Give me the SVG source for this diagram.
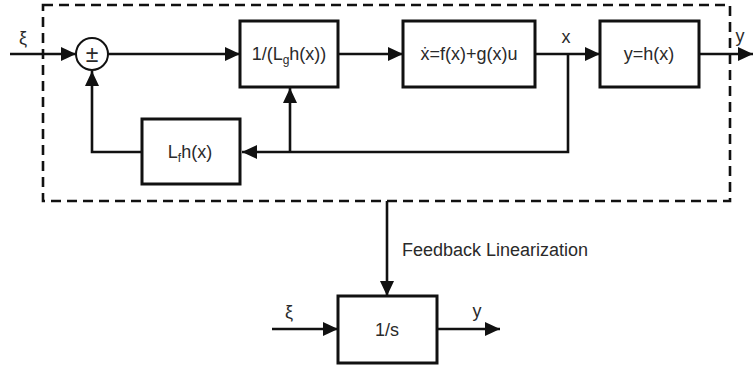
<svg xmlns="http://www.w3.org/2000/svg" width="755" height="367" viewBox="0 0 755 367">
<style>
.box{fill:#fff;stroke:#111;stroke-width:3}
.ln{fill:none;stroke:#111;stroke-width:2.6}
.arr{marker-end:url(#ah)}
text{font-family:"Liberation Sans",Arial,sans-serif;font-size:18px;fill:#2a2a2a}
.c{text-anchor:middle}
.sub{font-size:12px}
</style>
<defs>
<marker id="ah" markerUnits="userSpaceOnUse" markerWidth="16" markerHeight="14" refX="15" refY="7" orient="auto">
<path d="M0,0 L15,7 L0,14 Z" fill="#111"/>
</marker>
</defs>
<rect x="0" y="0" width="755" height="367" fill="#fff"/>
<g id="boundary">
<rect x="43" y="5" width="687" height="196" fill="none" stroke="#111" stroke-width="2.6" stroke-dasharray="10,6"/>
</g>
<g id="connectors">
<path class="ln arr" d="M10,54 H76"/>
<path class="ln arr" d="M108,54 H240"/>
<path class="ln arr" d="M338,54 H403"/>
<path class="ln arr" d="M535,54 H600"/>
<path class="ln arr" d="M699,54 H753"/>
<path class="ln arr" d="M568,54 V152 H242"/>
<path class="ln arr" d="M290,152 V88"/>
<path class="ln arr" d="M142,152 H92 V71"/>
<path class="ln arr" d="M387,201 V296"/>
<path class="ln arr" d="M272,329 H338"/>
<path class="ln arr" d="M437,329 H500"/>
</g>
<g id="sum">
<circle cx="92" cy="54" r="16" fill="#fff" stroke="#111" stroke-width="2"/>
<text class="c" x="92" y="62" style="font-size:23px">±</text>
</g>
<g id="inv">
<rect class="box" x="240" y="21" width="98" height="66"/>
<text class="c" x="289" y="60">1/(L<tspan class="sub" dy="4">g</tspan><tspan dy="-4">h(x))</tspan></text>
</g>
<g id="plant">
<rect class="box" x="403" y="21" width="132" height="66"/>
<text class="c" x="469" y="60">ẋ=f(x)+g(x)u</text>
</g>
<g id="output">
<rect class="box" x="600" y="21" width="99" height="66"/>
<text class="c" x="649" y="60">y=h(x)</text>
</g>
<g id="lie">
<rect class="box" x="142" y="119" width="98" height="65"/>
<text class="c" x="190" y="158">L<tspan class="sub" dy="4">f</tspan><tspan dy="-4">h(x)</tspan></text>
</g>
<g id="integrator">
<rect class="box" x="338" y="296" width="99" height="67"/>
<text class="c" x="387" y="336">1/s</text>
</g>
<g id="labels">
<text class="c" x="23" y="44">ξ</text>
<text class="c" x="566" y="43">x</text>
<text class="c" x="740" y="42">y</text>
<text x="402" y="256">Feedback Linearization</text>
<text class="c" x="289" y="318">ξ</text>
<text class="c" x="477" y="317">y</text>
</g>
</svg>
